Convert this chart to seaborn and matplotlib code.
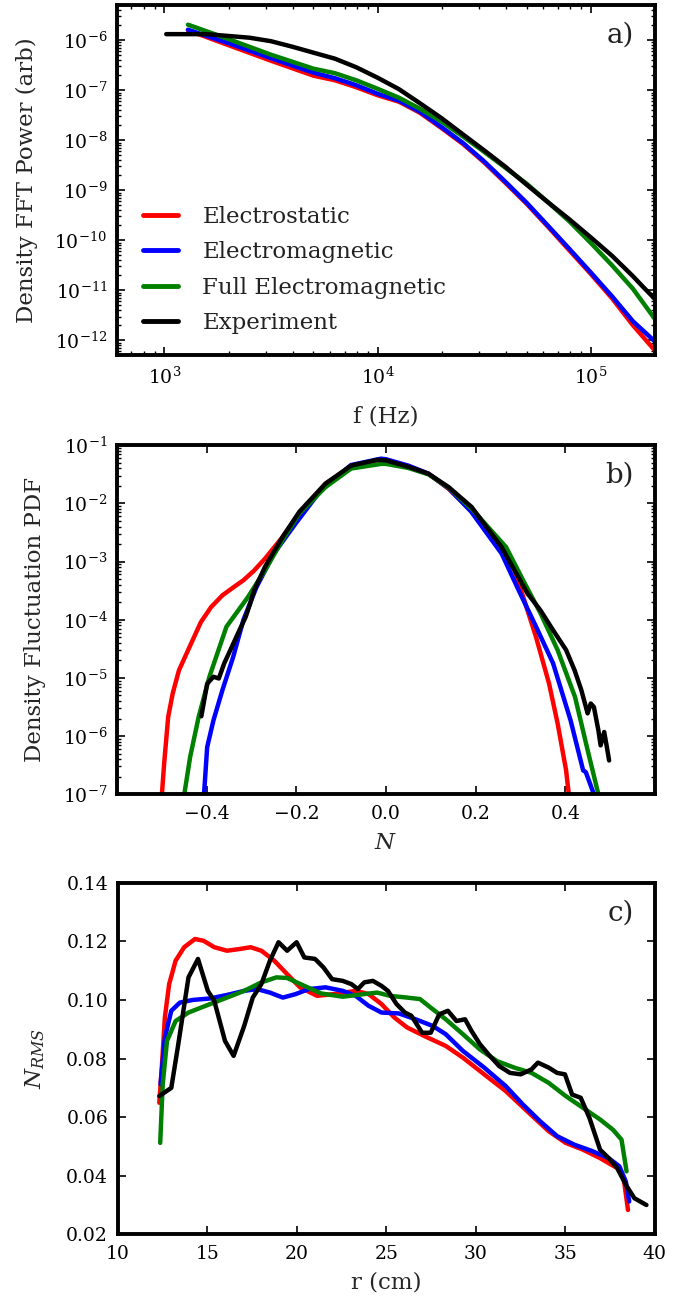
import numpy as np
import pandas as pd
import matplotlib
matplotlib.use("Agg")
import matplotlib.pyplot as plt
from matplotlib.ticker import LogLocator, NullFormatter, MultipleLocator, FormatStrFormatter
import seaborn as sns

# ---------------- Panel a: FFT power spectra ----------------
freq_model = [1290, 2000, 3160, 5010, 6310, 7940, 10000, 12600, 15800, 20000, 25100, 31600,
              39800, 50100, 63100, 79400, 100000, 126000, 158000, 200000]
power_es = [1.58e-6, 7.94e-7, 3.89e-7, 1.95e-7, 1.58e-7, 1.15e-7, 7.94e-8, 5.89e-8, 3.55e-8,
            1.74e-8, 8.51e-9, 3.63e-9, 1.41e-9, 5.37e-10, 1.86e-10, 6.31e-11, 2.14e-11,
            6.92e-12, 2.0e-12, 6.31e-13]
power_em = [1.62e-6, 8.71e-7, 4.37e-7, 2.24e-7, 1.74e-7, 1.26e-7, 8.51e-8, 6.17e-8, 3.72e-8,
            1.82e-8, 8.91e-9, 3.80e-9, 1.48e-9, 5.62e-10, 1.95e-10, 6.76e-11, 2.29e-11,
            7.59e-12, 2.40e-12, 9.55e-13]
power_fem = [2.04e-6, 1.05e-6, 5.13e-7, 2.69e-7, 2.19e-7, 1.58e-7, 1.07e-7, 7.08e-8, 4.27e-8,
             2.34e-8, 1.20e-8, 5.89e-9, 2.82e-9, 1.35e-9, 5.75e-10, 2.40e-10, 8.91e-11,
             3.16e-11, 1.07e-11, 2.69e-12]
freq_exp = [1020, 1580, 2510, 3160, 3980, 5010, 6310, 7940, 10000, 12600, 15800, 20000,
            25100, 31600, 39800, 50100, 63100, 79400, 100000, 126000, 158000, 178000, 200000]
power_exp = [1.32e-6, 1.32e-6, 1.12e-6, 9.55e-7, 7.41e-7, 5.62e-7, 4.27e-7, 2.88e-7, 1.78e-7,
             1.05e-7, 5.50e-8, 2.75e-8, 1.32e-8, 6.31e-9, 2.95e-9, 1.29e-9, 5.75e-10,
             2.63e-10, 1.15e-10, 4.90e-11, 1.91e-11, 1.12e-11, 6.76e-12]

# ---------------- Panel b: PDF (log10 of the PDF value) ----------------
n_es = [-0.50, -0.495, -0.486, -0.476, -0.462, -0.442, -0.413, -0.39, -0.365, -0.34, -0.318,
        -0.295, -0.270, -0.231, -0.193, -0.135, -0.078, -0.020, 0.0, 0.05, 0.095, 0.14, 0.19,
        0.248, 0.287, 0.306, 0.335, 0.364, 0.383, 0.402, 0.408]
logpdf_es = [-7.0, -6.47, -5.67, -5.27, -4.87, -4.53, -4.04, -3.78, -3.58, -3.44, -3.32,
             -3.16, -2.95, -2.58, -2.17, -1.66, -1.37, -1.26, -1.27, -1.36, -1.49, -1.75,
             -2.12, -2.63, -3.15, -3.6, -4.3, -5.1, -5.78, -6.59, -7.0]
n_em = [-0.406, -0.399, -0.385, -0.365, -0.341, -0.318, -0.289, -0.250, -0.202, -0.145, -0.078,
        -0.011, 0.0, 0.05, 0.095, 0.14, 0.19, 0.258, 0.296, 0.335, 0.373, 0.412, 0.44, 0.446,
        0.464]
logpdf_em = [-7.0, -6.19, -5.73, -5.21, -4.64, -4.0, -3.44, -2.86, -2.35, -1.77, -1.34,
             -1.23, -1.24, -1.35, -1.49, -1.74, -2.14, -2.86, -3.49, -4.12, -4.75, -5.73,
             -6.59, -6.62, -7.0]
n_fem = [-0.45, -0.437, -0.418, -0.394, -0.356, -0.308, -0.270, -0.231, -0.193, -0.135, -0.078,
         -0.011, 0.0, 0.05, 0.095, 0.14, 0.191, 0.268, 0.306, 0.345, 0.383, 0.422, 0.45, 0.474]
logpdf_fem = [-7.0, -6.36, -5.67, -4.98, -4.12, -3.61, -3.15, -2.63, -2.17, -1.72, -1.4,
              -1.32, -1.32, -1.39, -1.5, -1.73, -2.09, -2.75, -3.32, -3.89, -4.52, -5.33,
              -6.24, -7.0]
n_exp = [-0.412, -0.399, -0.385, -0.373, -0.361, -0.346, -0.327, -0.313, -0.303, -0.294, -0.270,
         -0.231, -0.193, -0.135, -0.078, -0.020, 0.0, 0.05, 0.095, 0.14, 0.191, 0.258, 0.287,
         0.316, 0.345, 0.373, 0.402, 0.421, 0.436, 0.450, 0.457, 0.464, 0.474, 0.479, 0.487,
         0.493, 0.498]
logpdf_exp = [-5.66, -5.1, -4.98, -5.01, -4.75, -4.5, -4.18, -3.95, -3.72, -3.49, -3.09,
              -2.58, -2.14, -1.66, -1.35, -1.25, -1.26, -1.37, -1.49, -1.72, -2.06, -2.75,
              -3.15, -3.55, -3.84, -4.18, -4.52, -4.87, -5.21, -5.61, -5.44, -5.5, -5.9,
              -6.16, -5.93, -6.19, -6.42]

# ---------------- Panel c: RMS profiles ----------------
r_es = [12.32, 12.47, 12.63, 12.87, 13.23, 13.71, 14.31, 14.79, 15.39, 16.1, 16.82, 17.42,
        18.02, 18.74, 19.46, 20.18, 21.13, 22.09, 23.29, 24.01, 24.73, 25.45, 26.16, 27.12,
        28.32, 29.28, 30.47, 31.67, 32.87, 34.07, 35.02, 35.98, 36.94, 37.9, 38.26, 38.5]
rms_es = [0.0649, 0.078, 0.094, 0.1054, 0.1134, 0.118, 0.1208, 0.1202, 0.118, 0.1168, 0.1174,
          0.118, 0.1168, 0.1134, 0.1088, 0.1043, 0.1014, 0.102, 0.1031, 0.102, 0.0986, 0.094,
          0.0906, 0.0877, 0.0843, 0.0803, 0.0746, 0.0689, 0.062, 0.0552, 0.0512, 0.0489,
          0.046, 0.0426, 0.0392, 0.0283]
r_em = [12.39, 12.63, 12.99, 13.47, 14.19, 15.15, 16.1, 17.06, 17.78, 18.5, 19.22, 19.94,
        20.66, 21.61, 22.57, 23.29, 24.01, 24.73, 25.69, 26.64, 27.6, 28.32, 29.28, 30.47,
        31.67, 32.63, 33.59, 34.54, 35.5, 36.46, 37.42, 38.02, 38.38, 38.57]
rms_em = [0.0712, 0.0871, 0.0963, 0.0991, 0.1, 0.1005, 0.1017, 0.1031, 0.1037, 0.1025, 0.1008,
          0.102, 0.1037, 0.1043, 0.1031, 0.1014, 0.098, 0.0957, 0.0954, 0.0934, 0.0911,
          0.0883, 0.0826, 0.0769, 0.0706, 0.0643, 0.0586, 0.0535, 0.0506, 0.0485, 0.046,
          0.0432, 0.038, 0.0312]
r_fem = [12.37, 12.51, 12.75, 13.23, 13.95, 14.91, 16.1, 17.06, 18.02, 18.86, 19.46, 20.42,
         21.37, 22.57, 23.77, 24.49, 25.21, 26.16, 26.88, 27.6, 28.32, 29.28, 30.23, 31.19,
         32.15, 33.11, 34.07, 35.02, 35.98, 36.94, 37.66, 38.14, 38.42]
rms_fem = [0.0512, 0.0712, 0.086, 0.0928, 0.0957, 0.098, 0.1008, 0.1031, 0.106, 0.1077, 0.1075,
           0.1048, 0.1022, 0.1011, 0.102, 0.1025, 0.1014, 0.1008, 0.1003, 0.0968, 0.0934,
           0.0883, 0.0831, 0.0791, 0.0769, 0.0751, 0.0717, 0.0672, 0.0632, 0.0592, 0.0557,
           0.0523, 0.0415]
r_exp = [12.32, 12.99, 13.35, 13.95, 14.48, 15.03, 15.39, 15.99, 16.47, 17.06, 17.54, 18.02,
         18.5, 18.98, 19.46, 19.99, 20.42, 21.02, 21.49, 21.97, 22.57, 23.05, 23.41, 23.77,
         24.25, 24.73, 25.09, 25.57, 26.04, 26.4, 27.0, 27.48, 27.96, 28.44, 28.92, 29.4,
         29.76, 30.23, 30.71, 31.31, 31.91, 32.51, 33.11, 33.47, 34.07, 34.54, 34.98, 35.38,
         35.86, 36.35, 36.94, 37.42, 37.9, 38.38, 38.86, 39.53]
rms_exp = [0.0672, 0.07, 0.0837, 0.1077, 0.114, 0.1031, 0.0997, 0.086, 0.0809, 0.0911, 0.1008,
           0.1054, 0.1134, 0.1197, 0.1168, 0.1197, 0.1145, 0.114, 0.1111, 0.1071, 0.1065,
           0.1054, 0.1037, 0.106, 0.1065, 0.1048, 0.1031, 0.0986, 0.0957, 0.0946, 0.0888,
           0.0888, 0.0951, 0.0963, 0.0928, 0.0934, 0.0894, 0.0849, 0.0814, 0.0774, 0.0751,
           0.0746, 0.0763, 0.0786, 0.0769, 0.0751, 0.0746, 0.0677, 0.0666, 0.0597, 0.0489,
           0.046, 0.0426, 0.0369, 0.0323, 0.03]

labels = ["Electrostatic", "Electromagnetic", "Full Electromagnetic", "Experiment"]
colors = ["#ff0000", "#0000ff", "#008000", "#000000"]

sns.set_style("ticks")
plt.rcParams.update({
    "font.family": ["DejaVu Serif"],
    "mathtext.fontset": "dejavuserif",
    "font.size": 14,
    "axes.linewidth": 2.8,
    "xtick.direction": "in", "ytick.direction": "in",
    "xtick.top": True, "ytick.right": True,
    "xtick.major.size": 6, "ytick.major.size": 6,
    "xtick.minor.size": 3, "ytick.minor.size": 3,
    "xtick.major.width": 1.2, "ytick.major.width": 1.2,
    "xtick.minor.width": 1.0, "ytick.minor.width": 1.0,
    "xtick.labelsize": 13.5, "ytick.labelsize": 13.5,
    "xtick.major.pad": 8, "ytick.major.pad": 7,
    "axes.edgecolor": "black",
    "xtick.color": "black", "ytick.color": "black",
    "text.color": "#222222",
    "lines.solid_joinstyle": "round",
})

LABEL_FS = 16.5
LETTER_FS = 20

fig = plt.figure(figsize=(6.73, 13.02), dpi=100)
axa = fig.add_axes([0.174, 0.727, 0.799, 0.269])
axb = fig.add_axes([0.174, 0.390, 0.799, 0.268])
axc = fig.add_axes([0.175, 0.052, 0.798, 0.270])

LW = 3.2

# Panel a
dfa = [
    pd.DataFrame({"f": freq_model, "P": power_es}),
    pd.DataFrame({"f": freq_model, "P": power_em}),
    pd.DataFrame({"f": freq_model, "P": power_fem}),
    pd.DataFrame({"f": freq_exp, "P": power_exp}),
]
for d, lab, c in zip(dfa, labels, colors):
    sns.lineplot(data=d, x="f", y="P", ax=axa, color=c, lw=LW, label=lab,
                 sort=False, estimator=None)
axa.set_xscale("log")
axa.set_yscale("log")
axa.set_xlim(600, 2.0e5)
axa.set_ylim(5e-13, 5e-6)
axa.yaxis.set_major_locator(LogLocator(base=10, numticks=20))
axa.yaxis.set_minor_locator(LogLocator(base=10, subs=np.arange(2, 10), numticks=20))
axa.yaxis.set_minor_formatter(NullFormatter())
axa.set_xlabel("f (Hz)", fontsize=LABEL_FS, labelpad=13)
axa.set_ylabel("Density FFT Power (arb)", fontsize=LABEL_FS, labelpad=12)
leg = axa.legend(loc="lower left", frameon=False, fontsize=16.5, handlelength=1.55,
                 handletextpad=1.05, labelspacing=0.59, borderpad=0, borderaxespad=0,
                 bbox_to_anchor=(0.048, 0.06))
for h in leg.get_lines():
    h.set_linewidth(3.5)
axa.text(0.961, 0.952, "a)", transform=axa.transAxes, ha="right", va="top",
         fontsize=LETTER_FS)

# Panel b
dfb = [
    pd.DataFrame({"N": n_es, "p": np.power(10.0, logpdf_es)}),
    pd.DataFrame({"N": n_em, "p": np.power(10.0, logpdf_em)}),
    pd.DataFrame({"N": n_fem, "p": np.power(10.0, logpdf_fem)}),
    pd.DataFrame({"N": n_exp, "p": np.power(10.0, logpdf_exp)}),
]
for d, c in zip(dfb, colors):
    sns.lineplot(data=d, x="N", y="p", ax=axb, color=c, lw=LW, sort=False,
                 estimator=None, legend=False)
axb.set_yscale("log")
axb.set_xlim(-0.6, 0.6)
axb.set_ylim(1e-7, 1e-1)
axb.set_xticks([-0.4, -0.2, 0.0, 0.2, 0.4])
axb.set_xticklabels(["\u22120.4", "\u22120.2", "0.0", "0.2", "0.4"])
axb.yaxis.set_major_locator(LogLocator(base=10, numticks=20))
axb.yaxis.set_minor_locator(LogLocator(base=10, subs=np.arange(2, 10), numticks=20))
axb.yaxis.set_minor_formatter(NullFormatter())
axb.set_xlabel("$N$", fontsize=LABEL_FS, labelpad=6)
axb.set_ylabel("Density Fluctuation PDF", fontsize=LABEL_FS, labelpad=12)
axb.text(0.961, 0.952, "b)", transform=axb.transAxes, ha="right", va="top",
         fontsize=LETTER_FS)

# Panel c
dfc = [
    pd.DataFrame({"r": r_es, "v": rms_es}),
    pd.DataFrame({"r": r_em, "v": rms_em}),
    pd.DataFrame({"r": r_fem, "v": rms_fem}),
    pd.DataFrame({"r": r_exp, "v": rms_exp}),
]
for d, c in zip(dfc, colors):
    sns.lineplot(data=d, x="r", y="v", ax=axc, color=c, lw=LW, sort=False,
                 estimator=None, legend=False)
axc.set_xlim(10, 40)
axc.set_ylim(0.02, 0.14)
axc.xaxis.set_major_locator(MultipleLocator(5))
axc.yaxis.set_major_locator(MultipleLocator(0.02))
axc.yaxis.set_major_formatter(FormatStrFormatter("%.2f"))
axc.set_xlabel("r (cm)", fontsize=LABEL_FS, labelpad=6)
axc.set_ylabel("$N_{RMS}$", fontsize=LABEL_FS, labelpad=14)
axc.text(0.961, 0.952, "c)", transform=axc.transAxes, ha="right", va="top",
         fontsize=LETTER_FS)

for ax in (axa, axb, axc):
    for s in ax.spines.values():
        s.set_visible(True)
        s.set_linewidth(2.8)
    ax.tick_params(which="both", top=True, right=True, direction="in")

fig.savefig("out.png", dpi=100)
